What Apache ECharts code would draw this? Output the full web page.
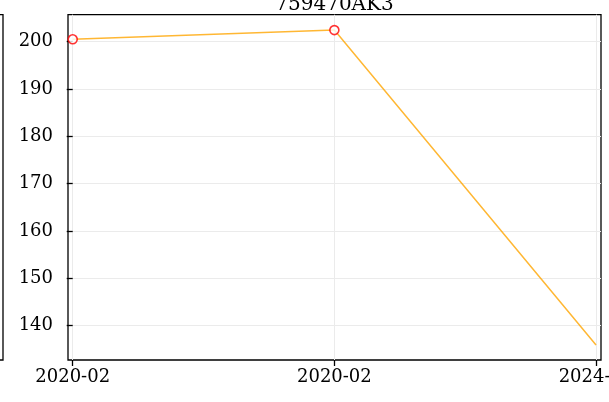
<!DOCTYPE html>
<html>
<head>
<meta charset="utf-8">
<script src="https://cdn.jsdelivr.net/npm/echarts@6/dist/echarts.min.js"></script>
<style>
  html, body { margin: 0; padding: 0; background: #fff; }
  #chart { width: 609px; height: 402px; }
</style>
</head>
<body>
<div id="chart"></div>
<script>
// Price history for one bond (CUSIP 759470AK3)
const title = '759470AK3';
const dates = ['2020-02', '2020-02', '2024-02'];
const prices = [200.5, 202.45, 135.9];
const flagged = [true, true, false];
const yTicks = [140, 150, 160, 170, 180, 190, 200];

const FONT = 'DejaVu Serif';
const chart = echarts.init(document.getElementById('chart'), null, { renderer: 'canvas' });

const lineData = prices.map((v, i) => [i, v]);
const markData = prices
  .map((v, i) => (flagged[i] ? [i, v] : null))
  .filter(d => d !== null);

chart.setOption({
  animation: false,
  backgroundColor: '#fff',
  grid: {
    left: 68, right: 8, top: 14.7, bottom: 42,
    outerBoundsMode: 'none',
    containLabel: false,
    show: true, borderColor: '#000', borderWidth: 1.3, backgroundColor: 'transparent'
  },
  xAxis: {
    type: 'value',
    min: -0.018,
    max: 2.019,
    axisLine: { show: false },
    axisTick: {
      show: true, length: 6, inside: false,
      lineStyle: { color: '#000', width: 1.3 },
      customValues: dates.map((d, i) => i)
    },
    axisLabel: {
      customValues: dates.map((d, i) => i),
      formatter: v => dates[Math.round(v)],
      fontFamily: FONT, fontSize: 18, color: '#000', margin: 8
    },
    splitLine: { show: true, lineStyle: { color: '#ebebeb', width: 1 } }
  },
  yAxis: {
    type: 'value',
    min: 132.75,
    max: 205.7,
    axisLine: { show: false },
    axisTick: {
      show: true, length: 6, inside: false,
      lineStyle: { color: '#000', width: 1.3 },
      customValues: yTicks
    },
    axisLabel: {
      customValues: yTicks,
      fontFamily: FONT, fontSize: 18, color: '#000', margin: 15
    },
    splitLine: { show: true, lineStyle: { color: '#ebebeb', width: 1 } }
  },
  series: [
    {
      type: 'line',
      data: lineData,
      showSymbol: false,
      lineStyle: { color: 'rgba(255,165,0,0.8)', width: 1.5 },
      z: 2
    },
    {
      type: 'scatter',
      data: markData,
      symbol: 'circle',
      symbolSize: 9,
      itemStyle: { color: '#fff', borderColor: '#ff0000', borderWidth: 1.6 },
      z: 3
    }
  ],
  graphic: [
    {
      // panel title, centred over the plot area
      type: 'text',
      x: 334.5,
      y: 15,
      style: {
        text: title,
        fontFamily: FONT, fontSize: 20, fill: '#000',
        textAlign: 'center', textVerticalAlign: 'bottom'
      },
      z: 10
    },
    {
      // right edge of the neighbouring panel
      type: 'rect',
      shape: { x: -20, y: 14.7, width: 23, height: 345.3 },
      style: { fill: 'none', stroke: '#000', lineWidth: 1.3 },
      silent: true
    }
  ]
});
</script>
</body>
</html>
